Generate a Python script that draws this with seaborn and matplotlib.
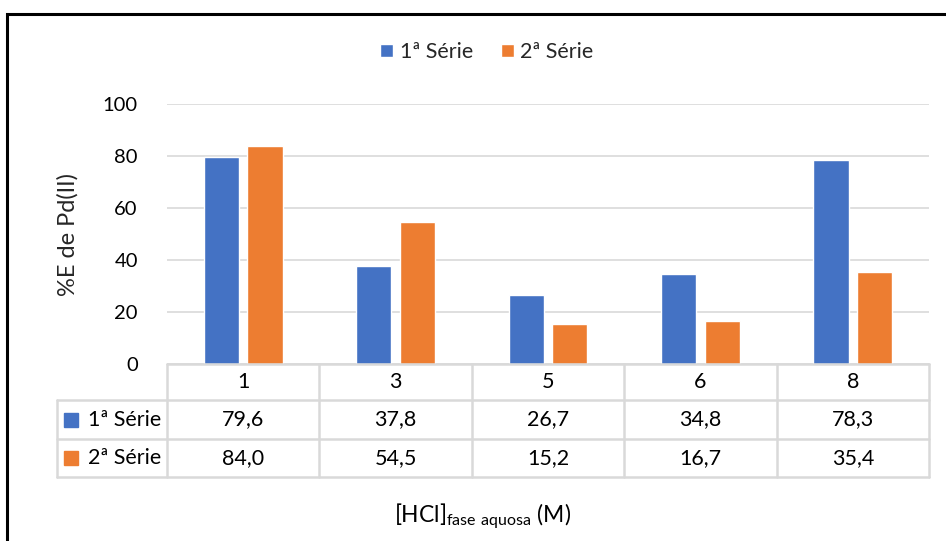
import matplotlib
matplotlib.use("Agg")
import matplotlib.pyplot as plt
import matplotlib.transforms as mtransforms
from matplotlib.lines import Line2D
from matplotlib.patches import Rectangle
import pandas as pd
import seaborn as sns

# Data
concentracoes = ["1", "3", "5", "6", "8"]
serie_1 = [79.6, 37.8, 26.7, 34.8, 78.3]
serie_2 = [84.0, 54.5, 15.2, 16.7, 35.4]
series_nomes = ["1ª Série", "2ª Série"]
cores = ["#4472C4", "#ED7D31"]
y_ticks = [0, 20, 40, 60, 80, 100]

df = pd.DataFrame({
    "HCl": concentracoes * 2,
    "E": serie_1 + serie_2,
    "Série": [series_nomes[0]] * len(concentracoes) + [series_nomes[1]] * len(concentracoes),
})

sns.set_theme(style="white")
plt.rcParams["font.family"] = ["Lato", "DejaVu Sans"]
plt.rcParams["mathtext.fontset"] = "custom"
plt.rcParams["mathtext.rm"] = "Lato"

W, H = 946, 541
fig = plt.figure(figsize=(W / 100, H / 100), dpi=100)
fig.patch.set_facecolor("white")

def fx(px):
    return px / W

def fy(py):
    return 1 - py / H

ax_left, ax_right, ax_top, ax_bottom = 167, 929, 104, 364
ax = fig.add_axes([fx(ax_left), fy(ax_bottom), fx(ax_right - ax_left), (ax_bottom - ax_top) / H])

sns.barplot(data=df, x="HCl", y="E", hue="Série", palette=cores, ax=ax,
            width=0.57, gap=0.19, saturation=1, legend=True)

ax.set_ylim(0, 100)
ax.set_xlim(-0.5, len(concentracoes) - 0.5)
ax.set_yticks(y_ticks)
ax.set_yticklabels([str(t) for t in y_ticks], fontsize=14.5, color="#000000")
ax.tick_params(axis="y", length=0, pad=21)
ax.set_xticks([])
ax.set_xlabel("")
ax.set_ylabel("")
for side in ["top", "right", "left", "bottom"]:
    ax.spines[side].set_visible(False)
ax.yaxis.grid(True, color="#d9d9d9", linewidth=1.2)
ax.set_axisbelow(True)

# Legend at the top
handles, labels = ax.get_legend_handles_labels()
ax.legend_.remove()
fig.legend(handles, labels, loc="center", bbox_to_anchor=(fx(487), fy(52)), ncol=2,
           frameon=False, fontsize=15.5, handlelength=0.6, handleheight=0.6,
           handletextpad=0.3, columnspacing=1.3)

# Y axis title
fig.text(fx(68), fy(235), "%E de Pd(II)", rotation=90, ha="center", va="center", fontsize=17)

# Data table below the plot
grid_c = "#d9d9d9"
lw = 1.8
row_y = [364, 400, 439, 477]
tab_left = 57
blend = mtransforms.blended_transform_factory(ax.transData, fig.transFigure)

# horizontal lines
fig.add_artist(Line2D([fx(ax_left), fx(ax_right)], [fy(row_y[0])] * 2, color=grid_c, lw=lw))
for yy in row_y[1:]:
    fig.add_artist(Line2D([fx(tab_left), fx(ax_right)], [fy(yy)] * 2, color=grid_c, lw=lw))
# vertical lines
fig.add_artist(Line2D([fx(tab_left)] * 2, [fy(row_y[1]), fy(row_y[3])], color=grid_c, lw=lw))
for i in range(len(concentracoes) + 1):
    fig.add_artist(Line2D([i - 0.5] * 2, [fy(row_y[0]), fy(row_y[3])], transform=blend,
                          color=grid_c, lw=lw))

# header row with the categories
for i, c in enumerate(concentracoes):
    fig.text(i, fy((row_y[0] + row_y[1]) / 2), c, transform=blend, ha="center", va="center",
             fontsize=15.5, color="black")

# series rows
for r, (nome, vals, cor) in enumerate(zip(series_nomes, [serie_1, serie_2], cores)):
    yc = (row_y[r + 1] + row_y[r + 2]) / 2
    fig.add_artist(Rectangle((fx(64), fy(yc + 7)), fx(14), 14 / H, color=cor,
                             transform=fig.transFigure))
    fig.text(fx(88), fy(yc), nome, ha="left", va="center", fontsize=15.5, color="black")
    for i, v in enumerate(vals):
        fig.text(i, fy(yc), f"{v:.1f}".replace(".", ","), transform=blend,
                 ha="center", va="center", fontsize=15.5, color="black")

# X axis title
fig.text(fx(483), fy(517), r"[HCl]$_{\mathrm{fase\ aquosa}}$ (M)", ha="center", va="center",
         fontsize=16.5, color="black")

# Outer chart frame
fig.add_artist(Line2D([fx(7), fx(7), 1.01], [-0.01, fy(14), fy(14)], color="black",
                      lw=2.2, transform=fig.transFigure, solid_joinstyle="miter"))

fig.savefig("out.png", dpi=100)
